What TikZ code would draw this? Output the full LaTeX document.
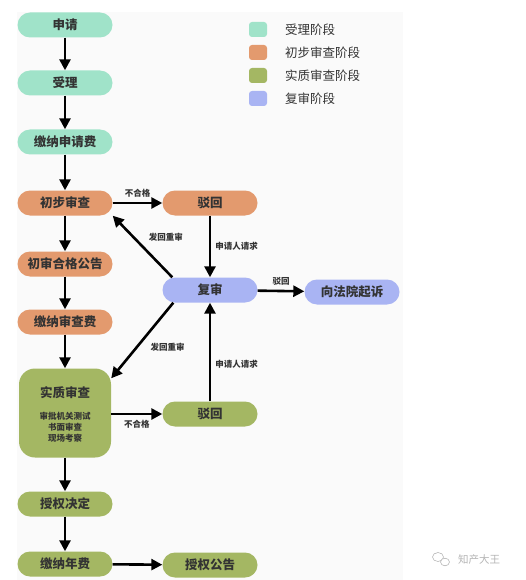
\documentclass[tikz,border=0pt]{standalone}
\usepackage{fontspec}
\setmainfont{Noto Sans CJK SC}
\usetikzlibrary{arrows.meta}

\begin{document}
\begin{tikzpicture}[x=1pt,y=-1pt,
  stage/.style={rounded corners=12.5pt, minimum width=95pt, minimum height=25pt, inner sep=0pt, text=txt, font=\fontsize{12.5}{14}\selectfont\bfseries},
  flow/.style={line width=2.6pt, -{Triangle[length=11pt,width=11pt]}},
  lbl/.style={font=\fontsize{8.5}{11}\selectfont\bfseries, text=txt, inner sep=0pt},
  key/.style={rounded corners=3pt, minimum width=18pt, minimum height=15pt, inner sep=0pt},
  keytext/.style={anchor=west, font=\fontsize{12.5}{14}\selectfont, text=txt, inner sep=0pt}]
\definecolor{slA}{HTML}{A0E3C9}
\definecolor{cbB}{HTML}{E39A6E}
\definecolor{szC}{HTML}{A4B763}
\definecolor{fsD}{HTML}{A9B4F3}
\definecolor{txt}{HTML}{333333}
\definecolor{bgc}{HTML}{FAFAFA}
\definecolor{wm}{HTML}{B4B4B4}
\useasboundingbox (0,0) rectangle (526,580);
\fill[bgc] (17,12) rectangle (403,580);

\node[key, fill=slA] (k1) at (258,29.5) {};
\node[keytext] (t1) at (285,29.5) {受理阶段};
\node[key, fill=cbB] (k2) at (258,52.5) {};
\node[keytext] (t2) at (285,52.5) {初步审查阶段};
\node[key, fill=szC] (k3) at (258,75.5) {};
\node[keytext] (t3) at (285,75.5) {实质审查阶段};
\node[key, fill=fsD] (k4) at (258,98.5) {};
\node[keytext] (t4) at (285,98.5) {复审阶段};

\node[stage, fill=slA] (sq) at (65,25) {申请};
\node[stage, fill=slA] (sl) at (65,83) {受理};
\node[stage, fill=slA] (jnsqf) at (65,142) {缴纳申请费};
\node[stage, fill=cbB] (cbsc) at (65,203) {初步审查};
\node[stage, fill=cbB] (bh1) at (210,203) {驳回};
\node[stage, fill=cbB] (hggg) at (65,264) {初审合格公告};
\node[stage, fill=cbB] (jnscf) at (65,322) {缴纳审查费};
\node[stage, fill=fsD] (fs) at (210,290) {复审};
\node[stage, fill=fsD] (qs) at (352,292) {向法院起诉};
\node[stage, fill=szC, minimum width=92pt, minimum height=89pt, rounded corners=16pt] (szsc) at (65,413) {};
\node[stage] (sztitle) at (65,393) {实质审查};
\node[lbl, align=center] (szitems) at (65,427) {审批机关测试\\书面审查\\现场考察};
\node[stage, fill=szC] (bh2) at (210,414) {驳回};
\node[stage, fill=szC] (sqjd) at (65,504) {授权决定};
\node[stage, fill=szC] (jnnf) at (65,564) {缴纳年费};
\node[stage, fill=szC] (sqgg) at (210,565) {授权公告};

\draw[flow] (sq) -- (sl);
\draw[flow] (sl) -- (jnsqf);
\draw[flow] (jnsqf) -- (cbsc);
\draw[flow] (cbsc) -- (hggg);
\draw[flow] (hggg) -- (jnscf);
\draw[flow] (jnscf) -- (szsc);
\draw[flow] (szsc) -- (sqjd);
\draw[flow] (sqjd) -- (jnnf);
\draw[flow] (jnnf) -- (sqgg);
\draw[flow] (cbsc) -- node[lbl, above=4pt] {不合格} (bh1);
\draw[flow] (bh1) -- node[lbl, right=4pt] {申请人请求} (fs);
\draw[flow] ([xshift=10pt]fs.north west) -- node[lbl, anchor=south west, xshift=5pt, yshift=4pt] {发回重审} (cbsc.south east);
\draw[flow] ([xshift=11pt]fs.south west) -- node[lbl, anchor=north west, xshift=7pt, yshift=-1pt] {发回重审} ([yshift=-10pt]szsc.north east);
\draw[flow] (fs) -- node[lbl, above=4pt] {驳回} (qs);
\draw[flow] (bh2) -- node[lbl, pos=0.38, right=4pt] {申请人请求} (fs);
\draw[flow] (szsc.east |- bh2) -- node[lbl, below=5pt] {不合格} (bh2);

\draw[wm, line width=0.6pt] (438,557) ellipse (5.5pt and 4.5pt);
\draw[wm, line width=0.6pt, fill=white] (445,562) ellipse (4.5pt and 3.8pt);
\node[font=\fontsize{10.5}{12}\selectfont, text=wm, inner sep=0pt] (wmtext) at (479,560) {知产大王};
\end{tikzpicture}
\end{document}
